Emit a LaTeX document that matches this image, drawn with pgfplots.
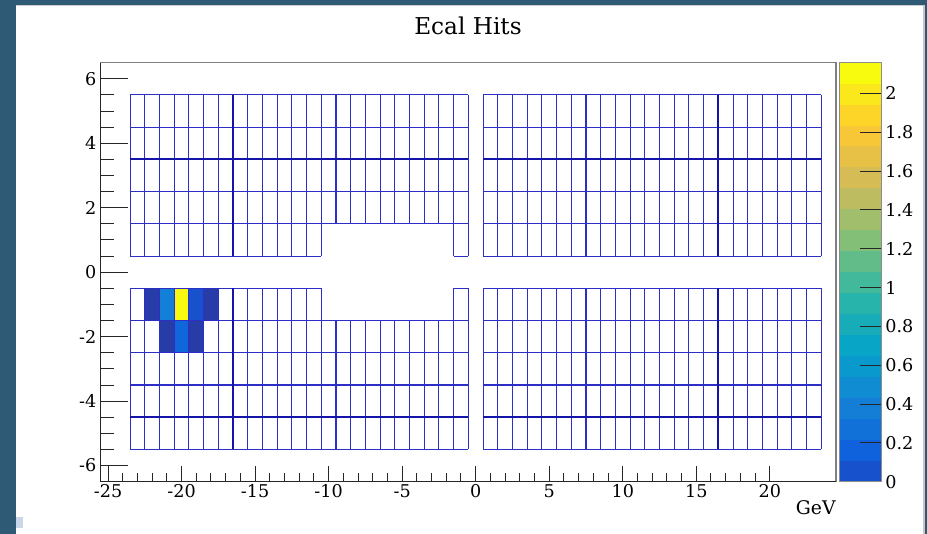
\documentclass[border=0pt]{standalone}
\usepackage{fontspec}
\setmainfont{DejaVu Serif}
\usepackage{pgfplots}
\pgfplotsset{compat=1.18}
\usepackage{pgfplotstable}

\definecolor{frameteal}{RGB}{47,90,117}
\definecolor{gridblue}{RGB}{45,45,200}
\definecolor{gridthick}{RGB}{20,20,170}
\definecolor{cornerbox}{RGB}{200,216,234}
\definecolor{b0}{RGB}{23,82,204}
\definecolor{b1}{RGB}{16,98,220}
\definecolor{b2}{RGB}{18,112,217}
\definecolor{b3}{RGB}{20,126,214}
\definecolor{b4}{RGB}{15,140,210}
\definecolor{b5}{RGB}{10,153,205}
\definecolor{b6}{RGB}{9,165,199}
\definecolor{b7}{RGB}{24,172,185}
\definecolor{b8}{RGB}{39,180,170}
\definecolor{b9}{RGB}{65,185,154}
\definecolor{b10}{RGB}{98,188,137}
\definecolor{b11}{RGB}{132,191,120}
\definecolor{b12}{RGB}{161,190,109}
\definecolor{b13}{RGB}{189,188,97}
\definecolor{b14}{RGB}{213,188,85}
\definecolor{b15}{RGB}{231,193,70}
\definecolor{b16}{RGB}{248,199,56}
\definecolor{b17}{RGB}{253,213,41}
\definecolor{b18}{RGB}{251,232,28}
\definecolor{b19}{RGB}{249,251,14}

% filled crystals: corners of each cell, z = deposited energy
\pgfplotstableread{
x y z
-22.5 -1.5 0.097
-21.5 -1.5 0.097
-21.5 -0.5 0.097
-22.5 -0.5 0.097
-21.5 -1.5 0.53
-20.5 -1.5 0.53
-20.5 -0.5 0.53
-21.5 -0.5 0.53
-20.5 -1.5 2.15
-19.5 -1.5 2.15
-19.5 -0.5 2.15
-20.5 -0.5 2.15
-19.5 -1.5 0.216
-18.5 -1.5 0.216
-18.5 -0.5 0.216
-19.5 -0.5 0.216
-18.5 -1.5 0.097
-17.5 -1.5 0.097
-17.5 -0.5 0.097
-18.5 -0.5 0.097
-21.5 -2.5 0.097
-20.5 -2.5 0.097
-20.5 -1.5 0.097
-21.5 -1.5 0.097
-20.5 -2.5 0.345
-19.5 -2.5 0.345
-19.5 -1.5 0.345
-20.5 -1.5 0.345
-19.5 -2.5 0.097
-18.5 -2.5 0.097
-18.5 -1.5 0.097
-19.5 -1.5 0.097
}\cells

\newcommand{\tickfont}{\fontsize{8.8}{10}\selectfont}

\begin{document}
\begin{tikzpicture}
\useasboundingbox (0,0) rectangle (463.5pt,267pt);
\fill[frameteal] (0,0) rectangle (463.5pt,267pt);
\fill[white] (7.85pt,0) rectangle (461.35pt,264.5pt);
\fill[black!22] (461.35pt,0) rectangle (462.5pt,264.5pt);
\fill[black!20] (7.85pt,264.2pt) rectangle (461.35pt,264.5pt);
\fill[cornerbox] (7.85pt,2.85pt) rectangle (11.35pt,8.35pt);

\begin{axis}[
  at={(50.35pt,26.15pt)}, anchor=south west,
  scale only axis, width=367.65pt, height=209.5pt,
  xmin=-25.5, xmax=24.5, ymin=-6.5, ymax=6.5,
  xtick={-25,-20,-15,-10,-5,0,5,10,15,20},
  xticklabels={-25,-20,-15,-10,-5,0,5,10,15,20},
  minor x tick num=4,
  ytick=\empty,
  xtick pos=left,
  tick align=inside,
  major tick length=7.85pt, minor tick length=4.15pt,
  tick style={black!85, line width=0.5pt},
  axis line style={draw=black!50, line width=0.6pt},
  xticklabel style={font=\tickfont, inner sep=1.1pt},
  colormap={kbird}{rgb=(0.2082,0.1664,0.5293) rgb=(0.0592,0.3599,0.8684)
    rgb=(0.0780,0.5041,0.8385) rgb=(0.0232,0.6419,0.7914) rgb=(0.1802,0.7178,0.6425)
    rgb=(0.5301,0.7492,0.4662) rgb=(0.8186,0.7328,0.3499) rgb=(0.9956,0.7862,0.1968)
    rgb=(0.9764,0.9832,0.0539)},
  point meta min=0, point meta max=2.158,
]
\addplot[patch, patch type=rectangle, shader=flat, point meta=\thisrow{z}]
  table[x=x, y=y] {\cells};

% crystal outlines, top and bottom modules
\pgfplotsinvokeforeach{-23.5,-22.5,...,-10.5}{
  \addplot[gridblue, line width=0.55pt] coordinates {(#1,0.5) (#1,5.5)};
  \addplot[gridblue, line width=0.55pt] coordinates {(#1,-0.5) (#1,-5.5)};
}
\pgfplotsinvokeforeach{-9.5,-8.5,...,-2.5}{
  \addplot[gridblue, line width=0.55pt] coordinates {(#1,1.5) (#1,5.5)};
  \addplot[gridblue, line width=0.55pt] coordinates {(#1,-1.5) (#1,-5.5)};
}
\pgfplotsinvokeforeach{-1.5,-0.5,0.5,1.5,2.5,3.5,4.5,5.5,6.5,7.5,8.5,9.5,10.5,11.5,12.5,13.5,14.5,15.5,16.5,17.5,18.5,19.5,20.5,21.5,22.5,23.5}{
  \addplot[gridblue, line width=0.55pt] coordinates {(#1,0.5) (#1,5.5)};
  \addplot[gridblue, line width=0.55pt] coordinates {(#1,-0.5) (#1,-5.5)};
}
\pgfplotsinvokeforeach{1.5,2.5,3.5,4.5,5.5,-1.5,-2.5,-3.5,-4.5,-5.5}{
  \addplot[gridblue, line width=0.55pt] coordinates {(-23.5,#1) (-0.5,#1)};
  \addplot[gridblue, line width=0.55pt] coordinates {(0.5,#1) (23.5,#1)};
}
\pgfplotsinvokeforeach{0.5,-0.5}{
  \addplot[gridblue, line width=0.55pt] coordinates {(-23.5,#1) (-10.5,#1)};
  \addplot[gridblue, line width=0.55pt] coordinates {(-1.5,#1) (-0.5,#1)};
  \addplot[gridblue, line width=0.55pt] coordinates {(0.5,#1) (23.5,#1)};
}
% darker module boundaries
\pgfplotsinvokeforeach{-16.5,16.5}{
  \addplot[gridthick, line width=0.9pt] coordinates {(#1,0.5) (#1,5.5)};
  \addplot[gridthick, line width=0.9pt] coordinates {(#1,-0.5) (#1,-5.5)};
}
\pgfplotsinvokeforeach{3.5,-4.5}{
  \addplot[gridthick, line width=0.9pt] coordinates {(-23.5,#1) (-0.5,#1)};
  \addplot[gridthick, line width=0.9pt] coordinates {(0.5,#1) (23.5,#1)};
}
\end{axis}

% y ticks and dark left/bottom axis lines
\begin{axis}[
  at={(50.35pt,26.15pt)}, anchor=south west,
  scale only axis, width=367.65pt, height=209.5pt,
  xmin=-25.5, xmax=24.5, ymin=-6.5, ymax=6.5,
  axis lines=left,
  axis line style={-, draw=black!85, line width=0.7pt},
  xtick=\empty,
  ytick={-6,-4,-2,0,2,4,6},
  yticklabels={-6,-4,-2,0,2,4,6},
  minor y tick num=3,
  tick align=inside,
  major tick length=13.85pt, minor tick length=6.85pt,
  tick style={black!85, line width=0.5pt},
  yticklabel style={font=\tickfont, inner sep=2pt},
]
\addplot[draw=none] coordinates {(0,0)};
\end{axis}

% colour scale
\begin{axis}[
  at={(419.65pt,26.15pt)}, anchor=south west,
  scale only axis, width=20.85pt, height=209.5pt,
  xmin=0, xmax=1, ymin=0, ymax=2.158,
  xtick=\empty,
  ytick={0,0.2,0.4,0.6,0.8,1,1.2,1.4,1.6,1.8,2},
  yticklabels={0,0.2,0.4,0.6,0.8,1,1.2,1.4,1.6,1.8,2},
  ytick pos=right, yticklabel pos=right,
  tick align=inside, major tick length=10.5pt,
  tick style={black!85, line width=0.5pt},
  axis line style={draw=black!45, line width=0.5pt},
  yticklabel style={font=\tickfont, inner sep=2pt},
  axis on top,
]
\addplot[fill=b0, draw=none] coordinates {(0,0) (1,0) (1,0.1079) (0,0.1079)} -- cycle;
\addplot[fill=b1, draw=none] coordinates {(0,0.1079) (1,0.1079) (1,0.2158) (0,0.2158)} -- cycle;
\addplot[fill=b2, draw=none] coordinates {(0,0.2158) (1,0.2158) (1,0.3237) (0,0.3237)} -- cycle;
\addplot[fill=b3, draw=none] coordinates {(0,0.3237) (1,0.3237) (1,0.4316) (0,0.4316)} -- cycle;
\addplot[fill=b4, draw=none] coordinates {(0,0.4316) (1,0.4316) (1,0.5395) (0,0.5395)} -- cycle;
\addplot[fill=b5, draw=none] coordinates {(0,0.5395) (1,0.5395) (1,0.6474) (0,0.6474)} -- cycle;
\addplot[fill=b6, draw=none] coordinates {(0,0.6474) (1,0.6474) (1,0.7553) (0,0.7553)} -- cycle;
\addplot[fill=b7, draw=none] coordinates {(0,0.7553) (1,0.7553) (1,0.8632) (0,0.8632)} -- cycle;
\addplot[fill=b8, draw=none] coordinates {(0,0.8632) (1,0.8632) (1,0.9711) (0,0.9711)} -- cycle;
\addplot[fill=b9, draw=none] coordinates {(0,0.9711) (1,0.9711) (1,1.0790) (0,1.0790)} -- cycle;
\addplot[fill=b10, draw=none] coordinates {(0,1.0790) (1,1.0790) (1,1.1869) (0,1.1869)} -- cycle;
\addplot[fill=b11, draw=none] coordinates {(0,1.1869) (1,1.1869) (1,1.2948) (0,1.2948)} -- cycle;
\addplot[fill=b12, draw=none] coordinates {(0,1.2948) (1,1.2948) (1,1.4027) (0,1.4027)} -- cycle;
\addplot[fill=b13, draw=none] coordinates {(0,1.4027) (1,1.4027) (1,1.5106) (0,1.5106)} -- cycle;
\addplot[fill=b14, draw=none] coordinates {(0,1.5106) (1,1.5106) (1,1.6185) (0,1.6185)} -- cycle;
\addplot[fill=b15, draw=none] coordinates {(0,1.6185) (1,1.6185) (1,1.7264) (0,1.7264)} -- cycle;
\addplot[fill=b16, draw=none] coordinates {(0,1.7264) (1,1.7264) (1,1.8343) (0,1.8343)} -- cycle;
\addplot[fill=b17, draw=none] coordinates {(0,1.8343) (1,1.8343) (1,1.9422) (0,1.9422)} -- cycle;
\addplot[fill=b18, draw=none] coordinates {(0,1.9422) (1,1.9422) (1,2.0501) (0,2.0501)} -- cycle;
\addplot[fill=b19, draw=none] coordinates {(0,2.0501) (1,2.0501) (1,2.1580) (0,2.1580)} -- cycle;
\end{axis}

\node[anchor=base, font=\fontsize{11.6}{14}\selectfont] at (234pt,249.85pt) {Ecal Hits};
\node[anchor=base east, font=\fontsize{9.4}{11}\selectfont, inner sep=0pt] at (418pt,9.5pt) {GeV};
\end{tikzpicture}
\end{document}
